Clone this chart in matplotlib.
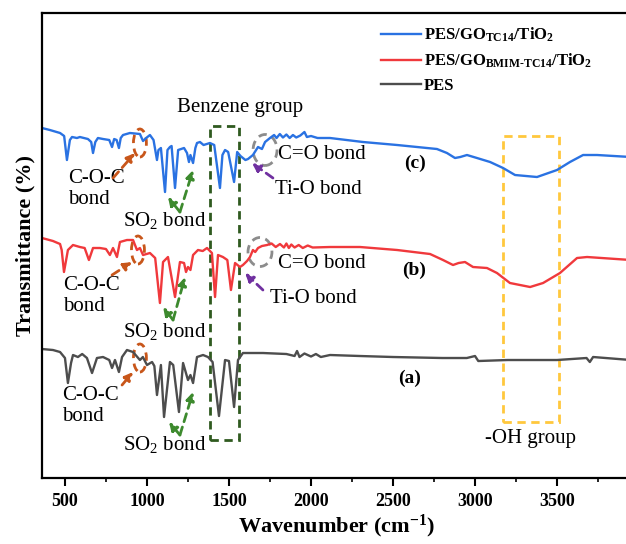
import matplotlib

matplotlib.use("Agg")
import matplotlib.pyplot as plt
from matplotlib.patches import Ellipse, Rectangle
from matplotlib.ticker import MultipleLocator

plt.rcParams["font.family"] = ["Liberation Serif", "DejaVu Serif"]
plt.rcParams["mathtext.fontset"] = "custom"
plt.rcParams["mathtext.rm"] = "Liberation Serif"
plt.rcParams["mathtext.bf"] = "Liberation Serif:bold"
plt.rcParams["mathtext.it"] = "Liberation Serif:italic"

# ---------------------------------------------------------------------------
# spectra (wavenumber, offset transmittance)
# ---------------------------------------------------------------------------
wn_c = [360, 408, 470, 495, 512, 530, 543, 573, 591, 640, 660, 671, 685, 701, 732, 770,
        787, 800, 815, 829, 840, 854, 896, 957, 976, 995, 1018, 1040, 1061, 1070, 1085,
        1110, 1125, 1140, 1150, 1171, 1190, 1226, 1244, 1256, 1265, 1281, 1295, 1305,
        1323, 1345, 1384, 1410, 1445, 1460, 1476, 1495, 1531, 1550, 1570, 1600, 1616,
        1646, 1677, 1701, 1720, 1750, 1775, 1790, 1810, 1829, 1850, 1870, 1890, 1910,
        1935, 1960, 1975, 2000, 2040, 2116, 2317, 2525, 2768, 2829, 2878, 2910, 2951,
        3012, 3092, 3171, 3244, 3378, 3500, 3579, 3659, 3744, 3950]
t_c = [70.0, 69.6, 69.0, 68.4, 63.6, 67.6, 68.2, 68.0, 68.2, 67.8, 67.2, 65.0, 67.2, 68.0,
       67.8, 67.6, 66.2, 67.8, 67.6, 66.0, 68.0, 68.6, 69.0, 68.8, 67.4, 68.0, 68.6, 67.6,
       63.6, 65.6, 66.0, 57.2, 65.6, 66.2, 66.4, 58.0, 65.6, 66.0, 65.0, 63.2, 64.6, 63.0,
       66.0, 67.0, 67.2, 66.6, 67.0, 66.6, 58.0, 64.6, 65.6, 65.2, 59.2, 65.2, 64.4, 63.6,
       63.8, 64.6, 66.2, 65.8, 67.2, 68.0, 68.6, 68.0, 68.8, 68.1, 68.7, 68.0, 68.6, 68.1,
       68.5, 69.2, 68.2, 68.4, 68.0, 68.0, 67.2, 66.6, 65.8, 65.0, 64.0, 64.2, 64.6, 64.0,
       63.2, 62.0, 60.6, 60.2, 61.6, 63.2, 64.6, 64.6, 64.2]

wn_b = [360, 427, 470, 480, 494, 518, 549, 591, 620, 646, 671, 713, 750, 774, 793, 817,
        835, 878, 915, 939, 957, 976, 1018, 1050, 1079, 1098, 1128, 1171, 1201, 1226,
        1238, 1250, 1265, 1281, 1311, 1340, 1366, 1396, 1415, 1433, 1463, 1490, 1512,
        1537, 1567, 1585, 1610, 1628, 1646, 1660, 1677, 1701, 1732, 1760, 1785, 1811,
        1835, 1850, 1865, 1880, 1900, 1925, 1950, 1980, 2010, 2116, 2299, 2525, 2726,
        2805, 2866, 2900, 2939, 2988, 3073, 3134, 3213, 3336, 3415, 3518, 3622, 3683, 3950]
t_b = [48.0, 47.4, 46.8, 45.6, 41.2, 45.6, 46.6, 46.2, 46.0, 43.6, 46.0, 46.0, 45.8, 44.6,
       46.0, 44.2, 47.2, 47.6, 47.6, 45.6, 46.0, 44.6, 45.0, 44.0, 35.0, 43.2, 44.2, 36.2,
       43.2, 43.0, 41.2, 42.2, 41.6, 44.6, 45.6, 45.4, 46.0, 45.0, 36.2, 44.6, 44.2, 43.6,
       37.6, 43.0, 42.2, 42.6, 43.4, 44.2, 45.6, 45.2, 46.0, 46.4, 46.6, 46.9, 46.2, 46.8,
       46.1, 46.9, 46.0, 46.7, 46.1, 46.6, 46.0, 46.5, 46.1, 46.2, 46.2, 45.6, 44.8, 43.6,
       42.6, 43.0, 43.2, 42.2, 42.0, 41.0, 39.0, 38.2, 39.0, 41.0, 44.0, 44.2, 43.6]

wn_a = [360, 427, 470, 500, 518, 537, 549, 579, 605, 634, 665, 695, 732, 770, 787, 805,
        829, 848, 878, 915, 957, 975, 1000, 1031, 1045, 1061, 1085, 1104, 1140, 1160,
        1195, 1220, 1250, 1265, 1281, 1305, 1342, 1372, 1400, 1439, 1476, 1500, 1531,
        1555, 1585, 1707, 1850, 1900, 1915, 1930, 1960, 2000, 2030, 2060, 2116, 2299,
        2500, 2800, 2950, 3000, 3020, 3200, 3500, 3680, 3700, 3720, 3950]
t_a = [25.8, 25.6, 25.2, 24.0, 19.0, 23.0, 24.6, 24.2, 24.8, 24.0, 21.0, 24.0, 24.2, 23.6,
       22.0, 23.6, 21.2, 24.2, 25.6, 25.2, 23.6, 24.2, 22.6, 23.2, 22.4, 16.6, 22.6, 12.2,
       23.2, 22.6, 13.2, 23.0, 19.6, 20.6, 19.0, 24.2, 24.6, 24.2, 23.2, 12.4, 23.6, 23.4,
       14.2, 23.6, 25.0, 25.0, 24.8, 24.4, 25.4, 24.2, 24.9, 24.3, 24.8, 24.2, 24.6, 24.4,
       24.2, 24.0, 24.0, 24.4, 23.4, 23.6, 23.6, 24.0, 23.2, 24.2, 23.6]

labels = [r"PES/GO$_{\mathbf{TC14}}$/TiO$_{\mathbf{2}}$",
          r"PES/GO$_{\mathbf{BMIM\text{-}TC14}}$/TiO$_{\mathbf{2}}$",
          "PES"]
colors = ["#2a72e2", "#f0393c", "#4d4d4d"]

fig = plt.figure(figsize=(6.26, 5.44), dpi=100)
ax = fig.add_axes([0.0671, 0.1213, 0.9406, 0.8548])

for x, y, lab, col in zip([wn_c, wn_b, wn_a], [t_c, t_b, t_a], labels, colors):
    ax.plot(x, y, color=col, lw=1.7, label=lab)

ax.set_xlim(360, 3950)
ax.set_ylim(0, 93)

# ---------------------------------------------------------------------------
# annotations
# ---------------------------------------------------------------------------
dash = (0, (3, 2))
fs = 15

ax.add_patch(Rectangle((1384, 7.6), 177, 62.8, fill=False, ec="#2f5a1f", lw=2, ls=dash))
ax.text(1567, 74.2, "Benzene group", ha="center", va="center", fontsize=fs)
ax.add_patch(Rectangle((3171, 11.2), 341, 57.2, fill=False, ec="#ffc83d", lw=2, ls=dash))
ax.text(3336, 8.0, "-OH group", ha="center", va="center", fontsize=fs)

for cx, cy, tx, ty in [(957, 67.0, 518, 57.8), (945, 45.6, 488, 36.4), (957, 24.0, 482, 14.4)]:
    ax.add_patch(Ellipse((cx, cy), 79, 5.6, fill=False, ec="#c8561a", lw=2, ls=dash))
    ax.text(tx, ty, "C-O-C\nbond", ha="left", va="center", fontsize=fs, linespacing=1.15)

orange_arrows = [((793, 60.0), (927, 65.0)), ((787, 40.6), (909, 43.2)), ((848, 18.6), (915, 21.2))]
for tail, tip in orange_arrows:
    ax.annotate("", xy=tip, xytext=tail,
                arrowprops=dict(arrowstyle="-|>", color="#c8561a", lw=2, ls=dash,
                                mutation_scale=12, shrinkA=0, shrinkB=0))

so2 = [((1201, 53.2), (1128, 56.2), (1281, 61.6), 1110, 51.6),
       ((1159, 31.6), (1098, 34.2), (1232, 40.2), 1110, 29.4),
       ((1201, 8.6), (1134, 11.2), (1281, 17.2), 1110, 6.8)]
for vtx, left, right, tx, ty in so2:
    for tip in (left, right):
        ax.annotate("", xy=tip, xytext=vtx,
                    arrowprops=dict(arrowstyle="-|>", color="#3d8a2e", lw=2, ls=dash,
                                    mutation_scale=12, shrinkA=0, shrinkB=0))
    ax.text(tx, ty, r"SO$_2$ bond", ha="center", va="center", fontsize=fs)

for cx, cy, h in [(1720, 65.6, 6.2), (1689, 45.2, 5.8)]:
    ax.add_patch(Ellipse((cx, cy), 146, h, fill=False, ec="#8c8c8c", lw=2, ls=dash))
ax.text(1799, 64.8, "C=O bond", ha="left", va="center", fontsize=fs)
ax.text(1799, 43.0, "C=O bond", ha="left", va="center", fontsize=fs)

for tail, tip in [((1768, 60.0), (1640, 63.0)), ((1707, 37.6), (1598, 41.0))]:
    ax.annotate("", xy=tip, xytext=tail,
                arrowprops=dict(arrowstyle="-|>", color="#7030a0", lw=2, ls=dash,
                                mutation_scale=12, shrinkA=0, shrinkB=0))
ax.text(1781, 57.8, "Ti-O bond", ha="left", va="center", fontsize=fs)
ax.text(1750, 36.0, "Ti-O bond", ha="left", va="center", fontsize=fs)

for lab, x, y in [("(c)", 2634, 63.0), ("(b)", 2628, 41.6), ("(a)", 2604, 20.0)]:
    ax.text(x, y, lab, ha="center", va="center", fontsize=14, fontweight="bold")

# ---------------------------------------------------------------------------
# axes styling
# ---------------------------------------------------------------------------
ax.xaxis.set_major_locator(MultipleLocator(500))
ax.xaxis.set_minor_locator(MultipleLocator(250))
ax.tick_params(axis="x", which="major", length=6, width=1.5, labelsize=13, pad=5)
ax.tick_params(axis="x", which="minor", length=3, width=1.2)
ax.tick_params(axis="y", left=False, labelleft=False)
for lbl in ax.get_xticklabels():
    lbl.set_fontweight("bold")
for sp in ax.spines.values():
    sp.set_linewidth(1.6)

ax.set_xlabel(r"Wavenumber (cm$^{\mathbf{-1}}$)", fontsize=16, fontweight="bold", labelpad=2)
ax.set_ylabel("Transmittance (%)", fontsize=16, fontweight="bold", labelpad=5)

leg = ax.legend(loc="upper left", bbox_to_anchor=(381 / 626, 1 - 26 / 544),
                bbox_transform=fig.transFigure, frameon=False, borderpad=0,
                borderaxespad=0, handlelength=2.4, handletextpad=0.15,
                labelspacing=0.45, prop={"weight": "bold", "size": 12})

fig.savefig("out.png", dpi=100)
